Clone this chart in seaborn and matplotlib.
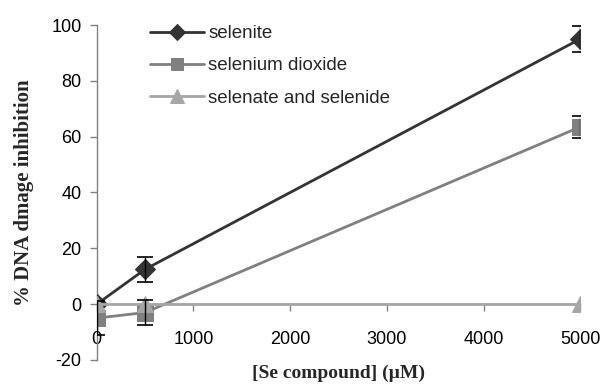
import matplotlib
matplotlib.use("Agg")
import matplotlib.pyplot as plt
import seaborn as sns
import pandas as pd

# concentrations (uM)
conc = [0, 500, 5000]

# % DNA damage inhibition
selenite = [0, 12.5, 95]
selenite_err = [0, 4.5, 4.5]
dioxide = [-5, -3, 63.5]
dioxide_err = [6, 4.5, 4]
selenate = [0, 0, 0]
selenate_err = [0, 0, 0]

series_names = ["selenite", "selenium dioxide", "selenate and selenide"]
series_vals = [selenite, dioxide, selenate]
series_errs = [selenite_err, dioxide_err, selenate_err]

sns.set_style("ticks")
plt.rcParams["font.family"] = ["Liberation Sans", "DejaVu Sans"]
plt.rcParams["axes.unicode_minus"] = False

rows = []
for name, vals, errs in zip(series_names, series_vals, series_errs):
    for x, y, e in zip(conc, vals, errs):
        rows.append({"conc": x, "value": y, "err": e, "compound": name})
df = pd.DataFrame(rows)

colors = {"selenite": "#333333", "selenium dioxide": "#808080",
          "selenate and selenide": "#a6a6a6"}
markers = {"selenite": "D", "selenium dioxide": "s", "selenate and selenide": "^"}
msizes = {"selenite": 10, "selenium dioxide": 11, "selenate and selenide": 12}

fig = plt.figure(figsize=(6.05, 3.85), dpi=100)
ax = fig.add_axes([0.160, 0.065, 0.799, 0.870])

for name in series_names:
    sub = df[df["compound"] == name]
    sns.lineplot(data=sub, x="conc", y="value", ax=ax, color=colors[name],
                 marker=markers[name], markersize=msizes[name],
                 markeredgecolor=colors[name], linewidth=2, label=name,
                 zorder=3)
    nz = sub[sub["err"] > 0]
    ax.errorbar(nz["conc"], nz["value"], yerr=nz["err"], fmt="none",
                ecolor="black", elinewidth=1, capsize=5.5, capthick=1.2,
                zorder=4)

ax.set_xlim(0, 5000)
ax.set_ylim(-20, 100)
ax.set_xticks(range(0, 5001, 1000))
ax.set_yticks(range(-20, 101, 20))

ax.spines["top"].set_visible(False)
ax.spines["right"].set_visible(False)
ax.spines["bottom"].set_position(("data", 0))
for sp in ("left", "bottom"):
    ax.spines[sp].set_color("#808080")
    ax.spines[sp].set_linewidth(1)
ax.tick_params(axis="both", colors="#808080", labelcolor="black",
               labelsize=13, length=5, width=1)
ax.tick_params(axis="x", pad=14)
ax.tick_params(axis="y", pad=6)

ax.set_xlabel("[Se compound] (\u00b5M)", family="Liberation Serif",
              fontweight="bold", fontsize=14)
ax.set_ylabel("% DNA dmage inhibition", family="Liberation Serif",
              fontweight="bold", fontsize=15)
ax.xaxis.set_label_coords(0.5, -0.015)
ax.yaxis.set_label_coords(-0.13, 0.5)

ax.legend(loc="upper left", bbox_to_anchor=(0.075, 1.05), frameon=False,
          fontsize=13.5, handlelength=2.9, labelspacing=0.8,
          handletextpad=0.2, markerscale=0.8)

fig.savefig("out.png", dpi=100)
